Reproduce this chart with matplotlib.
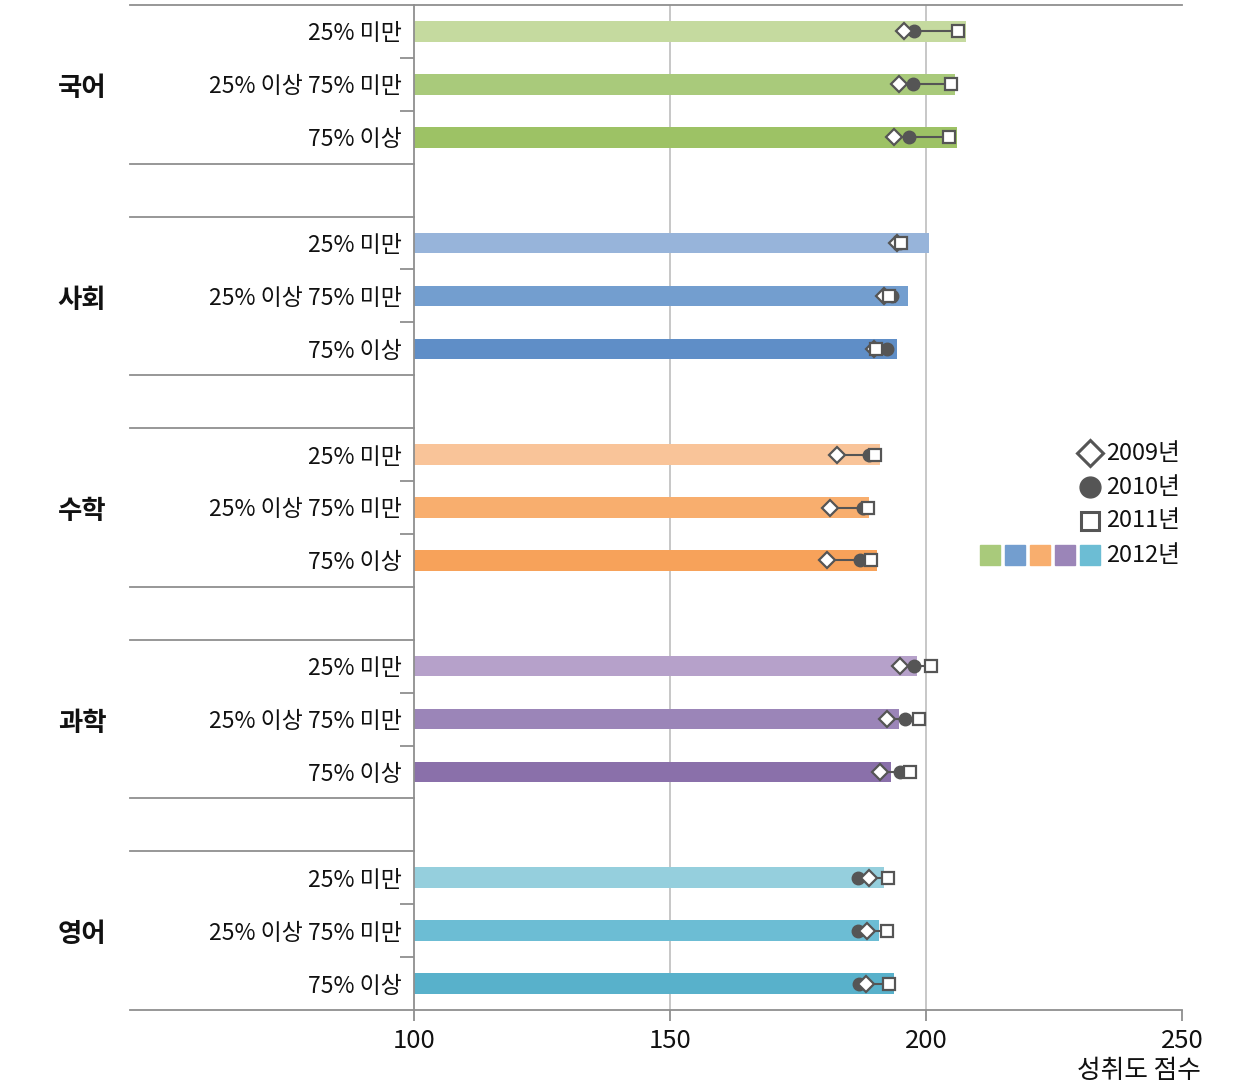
import matplotlib
matplotlib.use("Agg")
import matplotlib.pyplot as plt
import matplotlib.transforms as mtransforms
import numpy as np

plt.rcParams['font.family'] = ['Noto Sans CJK KR', 'DejaVu Sans']

subjects = ['국어', '사회', '수학', '과학', '영어']
levels = ['25% 미만', '25% 이상 75% 미만', '75% 이상']

score_2012 = {
    '국어': [207.8, 205.7, 206.0],
    '사회': [200.6, 196.4, 194.3],
    '수학': [191.1, 188.8, 190.5],
    '과학': [198.3, 194.8, 193.2],
    '영어': [191.8, 190.9, 193.75],
}
score_2009 = {
    '국어': [195.7, 194.7, 193.75],
    '사회': [194.3, 191.8, 189.8],
    '수학': [182.7, 181.25, 180.6],
    '과학': [195.0, 192.4, 191.1],
    '영어': [188.8, 188.5, 188.3],
}
score_2010 = {
    '국어': [197.7, 197.5, 196.6],
    '사회': [195.0, 193.4, 192.4],
    '수학': [188.8, 187.6, 187.2],
    '과학': [197.7, 195.9, 195.0],
    '영어': [186.7, 186.8, 186.95],
}
score_2011 = {
    '국어': [206.3, 204.8, 204.4],
    '사회': [195.2, 192.7, 190.2],
    '수학': [190.0, 188.7, 189.2],
    '과학': [200.9, 198.6, 196.9],
    '영어': [192.6, 192.3, 192.8],
}
bar_colors = {
    '국어': ['#c5da9f', '#a9ca7b', '#9dc265'],
    '사회': ['#97b4da', '#739ecf', '#5f8ec7'],
    '수학': ['#f9c499', '#f8ae6e', '#f7a25a'],
    '과학': ['#b6a1ca', '#9b85b8', '#8a70aa'],
    '영어': ['#95cfdd', '#6cbdd4', '#58b1cb'],
}
legend_colors = ['#a9ca7b', '#739ecf', '#f8ae6e', '#9b85b8', '#6cbdd4']
years = ['2009년', '2010년', '2011년', '2012년']
xticks = [100, 150, 200, 250]

W, H = 1240, 1085
fig = plt.figure(figsize=(W / 100, H / 100), dpi=100)
ax = fig.add_axes([414 / W, 1 - 1010 / H, (1182 - 414) / W, (1010 - 5) / H])

axis_col = '#8f8f8f'
mark_col = '#555555'
txt_col = '#111111'

row_pos, row_labels = [], []
for g, subj in enumerate(subjects):
    for r, lev in enumerate(levels):
        y = g * 4 + r
        row_pos.append(y)
        row_labels.append(lev)
        ax.barh(y, score_2012[subj][r] - 100, left=100, height=0.39,
                color=bar_colors[subj][r], zorder=2)
        vals = [score_2009[subj][r], score_2010[subj][r], score_2011[subj][r]]
        ax.plot([min(vals), max(vals)], [y, y], color=mark_col, lw=1.5, zorder=3)
        ax.plot(score_2010[subj][r], y, 'o', ms=9, color=mark_col, zorder=4)
        ax.plot(score_2009[subj][r], y, 'D', ms=8, mfc='white', mec=mark_col, mew=1.6, zorder=5)
        ax.plot(score_2011[subj][r], y, 's', ms=8.5, mfc='white', mec=mark_col, mew=1.6, zorder=6)

ax.set_xlim(100, 250)
ax.set_ylim(18.5, -0.5)

for v in [150, 200]:
    ax.axvline(v, color='#bdbdbd', lw=1.2, zorder=1)

for s in ['top', 'right', 'bottom']:
    ax.spines[s].set_visible(False)
ax.spines['left'].set_color(axis_col)
ax.spines['left'].set_linewidth(1.3)

ax.set_yticks(row_pos)
ax.set_yticklabels(row_labels, fontsize=16.5, color=txt_col)
ax.tick_params(axis='y', which='major', length=0, pad=9)
minor = []
for g in range(5):
    minor += [g * 4 + 0.5, g * 4 + 1.5]
ax.set_yticks(minor, minor=True)
ax.tick_params(axis='y', which='minor', length=10, width=1.3, color=axis_col)

ax.set_xticks(xticks)
ax.set_xticklabels([str(t) for t in xticks], fontsize=18.5, color=txt_col)
ax.tick_params(axis='x', length=8, width=1.3, color=axis_col, pad=5)

trans = mtransforms.blended_transform_factory(ax.transAxes, ax.transData)
ftrans = mtransforms.blended_transform_factory(fig.transFigure, ax.transData)
left_ext = (130 - 414) / (1182 - 414)
for g in range(5):
    top = g * 4 - 0.5
    bot = g * 4 + 2.5
    ax.plot([left_ext, 1 if g == 0 else 0], [top, top], transform=trans,
            color=axis_col, lw=1.3, clip_on=False, zorder=7)
    ax.plot([left_ext, 1 if g == 4 else 0], [bot, bot], transform=trans,
            color=axis_col, lw=1.3, clip_on=False, zorder=7)
    ax.text(82 / W, g * 4 + 1.08, subjects[g], transform=ftrans,
            ha='center', va='center', fontsize=19, fontweight='bold', color=txt_col)

fig.text(1201 / W, 1 - 1071 / H, '성취도 점수', ha='right', va='center', fontsize=18.5, color=txt_col)

# legend
ly = [453, 487, 521, 555]
lx = 1090
fig.lines.append(plt.Line2D([lx / W], [1 - ly[0] / H], marker='D', ms=13, mfc='white', mec=mark_col, mew=2.2, ls='none', transform=fig.transFigure))
fig.lines.append(plt.Line2D([lx / W], [1 - ly[1] / H], marker='o', ms=15, color=mark_col, ls='none', transform=fig.transFigure))
fig.lines.append(plt.Line2D([lx / W], [1 - ly[2] / H], marker='s', ms=13, mfc='white', mec=mark_col, mew=2.2, ls='none', transform=fig.transFigure))
for i, c in enumerate(legend_colors):
    fig.lines.append(plt.Line2D([(990 + 25 * i) / W], [1 - ly[3] / H], marker='s', ms=15, color=c, ls='none', transform=fig.transFigure))
for i, yr in enumerate(years):
    fig.text(1106 / W, 1 - ly[i] / H, yr, ha='left', va='center', fontsize=17, color=txt_col)

fig.savefig('out.png', dpi=100)
